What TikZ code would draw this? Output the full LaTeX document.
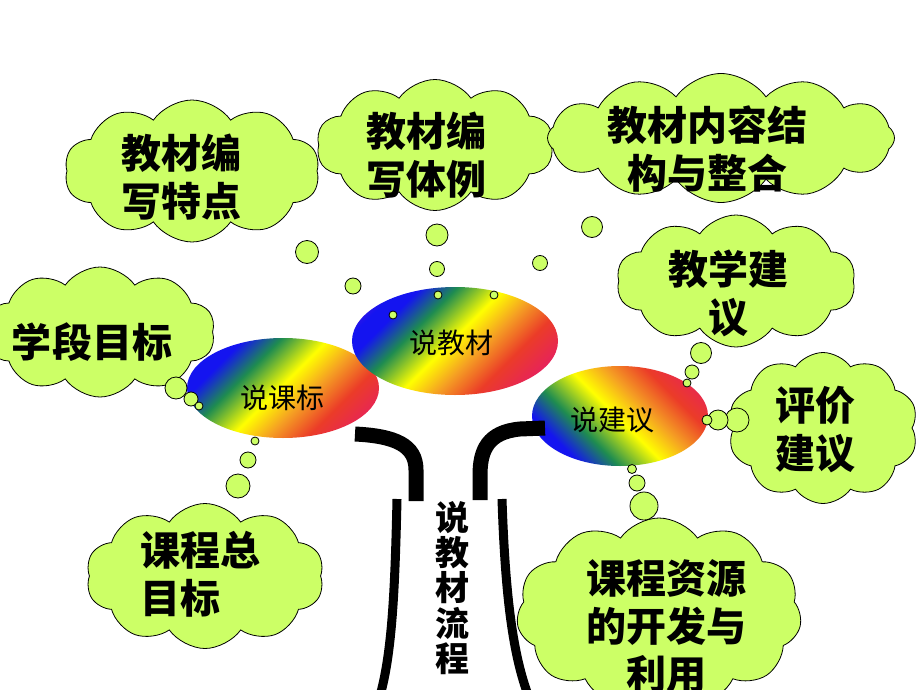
\documentclass[tikz,border=0pt]{standalone}
\usepackage{fontspec}
\newfontfamily\cjk{Noto Sans CJK SC}
\usetikzlibrary{shapes.symbols}
\usetikzlibrary{shapes.geometric}
\definecolor{cloudgreen}{HTML}{CCFF66}
\definecolor{rbviolet}{HTML}{5A14DC}
\definecolor{rbblue}{HTML}{1414F0}
\definecolor{rbgreen}{HTML}{1E8C50}
\definecolor{rbyellow}{HTML}{FFFF00}
\definecolor{rborange}{HTML}{F5A023}
\definecolor{rbred}{HTML}{EB3C28}
\definecolor{rbpink}{HTML}{E61E64}
\pgfdeclarehorizontalshading{rainbow}{100bp}{color(0bp)=(rbviolet); color(31bp)=(rbviolet); color(35bp)=(rbblue); color(38bp)=(rbblue); color(43bp)=(rbgreen); color(49.5bp)=(rbyellow); color(54.5bp)=(rborange); color(60bp)=(rbred); color(67bp)=(rbpink); color(100bp)=(rbpink)}

\begin{document}
\begin{tikzpicture}[x=1pt,y=-1pt,
	cloudbox/.style={cloud,cloud puffs=10,cloud puff arc=110,draw=black,fill=cloudgreen,line width=0.8pt,inner sep=0pt},
	cloudtext/.style={font=\cjk\bfseries\fontsize{40pt}{48pt}\selectfont,align=center,inner sep=0pt},
	oval/.style={ellipse,inner sep=0pt,path picture={\shade[shading=rainbow,shading angle=#1] (path picture bounding box.center) circle (130pt);}},
	ovaltext/.style={font=\cjk\fontsize{28pt}{30pt}\selectfont,inner sep=0pt},
	bubble/.style={draw=black,fill=cloudgreen,line width=0.8pt},
	trunk/.style={line width=15pt},
	twig/.style={line width=9pt}]
	\useasboundingbox (0,0) rectangle (920,690);
	\fill[white] (0,0) rectangle (920,690);
	\node[cloudbox,minimum width=255pt,minimum height=142pt] (tedian) at (192,171) {};
	\node[cloudbox,minimum width=237pt,minimum height=131pt] (tili) at (435,145) {};
	\node[cloudbox,cloud puffs=12,minimum width=347pt,minimum height=129pt] (jiegou) at (721,138) {};
	\node[cloudbox,minimum width=239pt,minimum height=132pt] (jiaoxue) at (736,281) {};
	\node[cloudbox,minimum width=230pt,minimum height=130pt] (xueduan) at (100,332) {};
	\node[cloudbox,minimum width=190pt,minimum height=151pt] (pingjia) at (823,428) {};
	\node[cloudbox,minimum width=238pt,minimum height=145pt] (zongmubiao) at (205,576) {};
	\node[cloudbox,cloud puffs=11,minimum width=285pt,minimum height=190pt] (ziyuan) at (659,613) {};
	\node[oval=-45,minimum width=192pt,minimum height=100pt] (kebiao) at (283,388) {};
	\node[oval=-45,minimum width=206pt,minimum height=108pt] (jiaocai) at (455,341) {};
	\node[oval=45,minimum width=176pt,minimum height=100pt] (jianyi) at (620,416) {};
	\foreach \x/\y/\r in {176/388/11,191/399/7,199/406/4,255/441/4,248/460/8,238/486/12,
		393/315/4,353/286/8,307/252/11.5,438/295/4,437/269/7.5,437/235/11,494/295/4,540/263/7.5,592/227/10.5,
		687/383/4,692/372/7,701/353/10.5,737/420/12,718/420/10,707/420/5,632/469/4.5,637/483/8,644/506/14}
		\draw[bubble] (\x,\y) circle (\r pt);
	\draw[trunk] (355,434) .. controls (395,436) and (416,445) .. (416,470) -- (416,501);
	\draw[trunk] (545,428) -- (520,429) .. controls (488,432) and (480,450) .. (480,475) -- (480,500);
	\draw[twig] (397,499) .. controls (395,590) and (392,650) .. (381,692);
	\draw[twig] (502,499) .. controls (505,590) and (512,650) .. (527,692);
	\node[ovaltext] (kebiao-t) at (282,398) {说课标};
	\node[ovaltext] (jiaocai-t) at (451,343) {说教材};
	\node[ovaltext] (jianyi-t) at (612,420) {说建议};
	\node[cloudtext] (tedian-t) at (181,177) {教材编\\写特点};
	\node[cloudtext] (tili-t) at (426,155) {教材编\\写体例};
	\node[cloudtext] (jiegou-t) at (707,149) {教材内容结\\构与整合};
	\node[cloudtext] (jiaoxue-t) at (728,293) {教学建\\议};
	\node[cloudtext] (xueduan-t) at (92,342) {学段目标};
	\node[cloudtext] (pingjia-t) at (815,430) {评价\\建议};
	\node[cloudtext,align=left] (zongmubiao-t) at (200,574) {课程总\\目标};
	\node[cloudtext] (ziyuan-t) at (666,627) {课程资源\\的开发与\\利用};
	\node[font=\cjk\bfseries\fontsize{34pt}{35.3pt}\selectfont,align=center,inner sep=0pt] (liucheng) at (452,588) {说\\教\\材\\流\\程};
\end{tikzpicture}
\end{document}
